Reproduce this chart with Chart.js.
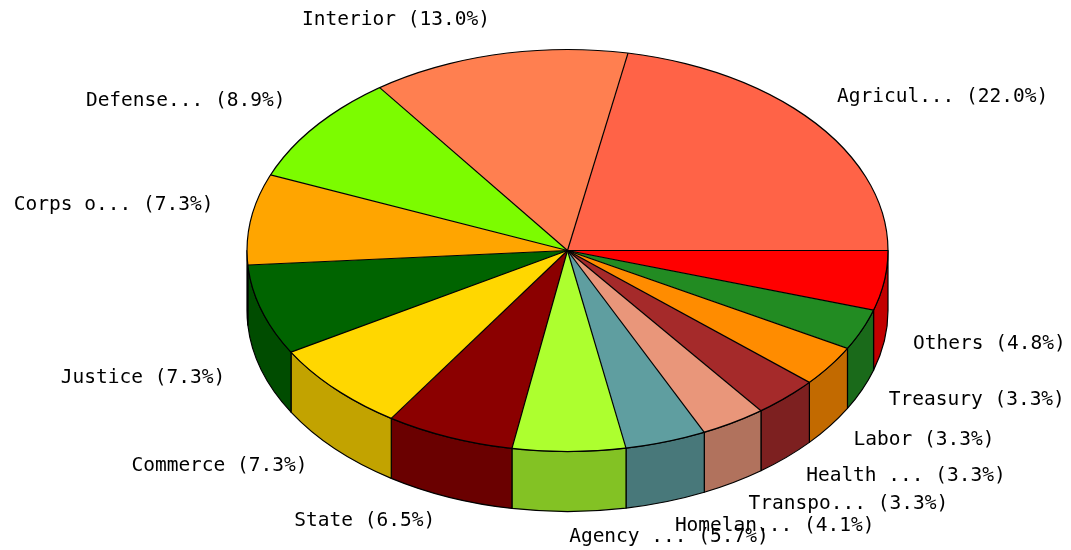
<!DOCTYPE html>
<html><head><meta charset="utf-8">
<script src="https://cdn.jsdelivr.net/npm/chart.js@4.4.0/dist/chart.umd.min.js"></script>
<style>html,body{margin:0;padding:0;background:#fff;}#wrap{width:1071px;height:550px;}</style>
</head><body><div id="wrap"><canvas id="c" width="1071" height="550"></canvas></div>
<script>
// Data (in the source's counter-clockwise order, starting at 3 o'clock)
const categories = ['Agricul...', 'Interior', 'Defense...', 'Corps o...', 'Justice', 'Commerce', 'State', 'Agency ...', 'Homelan...', 'Transpo...', 'Health ...', 'Labor', 'Treasury', 'Others'];
const shares = [22.0, 13.0, 8.9, 7.3, 7.3, 7.3, 6.5, 5.7, 4.1, 3.3, 3.3, 3.3, 3.3, 4.8];
const sliceColors = ['#FF6347', '#FF7F50', '#7CFC00', '#FFA500', '#006400', '#FFD700', '#8B0000', '#ADFF2F', '#5F9EA0', '#E9967A', '#A52A2A', '#FF8C00', '#228B22', '#FF0000'];

const DEPTH = 60;     // extrusion height of the 3D pie
const RX = 320.5;     // horizontal semi-axis of the pie top
const SIDE_SHADE = 0.76;

function darken(hex, f) {
  const n = parseInt(hex.slice(1), 16);
  const r = Math.round(((n >> 16) & 255) * f), g = Math.round(((n >> 8) & 255) * f), b = Math.round((n & 255) * f);
  return `rgb(${r},${g},${b})`;
}

const pie3d = {
  id: 'pie3d',
  beforeDatasetsDraw(chart) {
    const ctx = chart.ctx;
    const arcs = chart.getDatasetMeta(0).data;
    const cx = arcs[0].x, cy = arcs[0].y, RY = arcs[0].outerRadius;
    const colors = chart.data.datasets[0].backgroundColor;
    ctx.save();
    ctx.lineWidth = 1.2;
    ctx.strokeStyle = '#000';
    ctx.lineJoin = 'round';
    arcs.forEach((arc, i) => {
      const s = Math.max(arc.startAngle, 0), e = Math.min(arc.endAngle, Math.PI);
      if (e <= s) return;
      ctx.beginPath();
      ctx.ellipse(cx, cy, RX, RY, 0, s, e);
      ctx.lineTo(cx + RX * Math.cos(e), cy + RY * Math.sin(e) + DEPTH);
      ctx.ellipse(cx, cy + DEPTH, RX, RY, 0, e, s, true);
      ctx.closePath();
      ctx.fillStyle = darken(colors[i], SIDE_SHADE);
      ctx.fill();
      ctx.stroke();
    });
    ctx.restore();
    // flatten the library's circular pie into an ellipse
    ctx.save();
    ctx.translate(cx, cy);
    ctx.scale(RX / RY, 1);
    ctx.translate(-cx, -cy);
  },
  afterDatasetsDraw(chart) {
    const ctx = chart.ctx;
    ctx.restore();
    const arcs = chart.getDatasetMeta(0).data;
    const cx = arcs[0].x, cy = arcs[0].y, RY = arcs[0].outerRadius;
    ctx.save();
    ctx.strokeStyle = '#000';
    ctx.lineWidth = 1.2;
    // radial boundaries
    arcs.forEach(arc => {
      ctx.beginPath();
      ctx.moveTo(cx, cy);
      ctx.lineTo(cx + RX * Math.cos(arc.startAngle), cy + RY * Math.sin(arc.startAngle));
      ctx.stroke();
    });
    ctx.beginPath();
    ctx.ellipse(cx, cy, RX, RY, 0, 0, Math.PI * 2);
    ctx.stroke();
    // labels
    const labels = chart.data.labels, vals = chart.data.datasets[0].data;
    ctx.fillStyle = '#000';
    ctx.font = '19.5px "DejaVu Sans Mono", "Liberation Mono", monospace';
    ctx.textBaseline = 'middle';
    arcs.forEach((arc, i) => {
      const mid = (arc.startAngle + arc.endAngle) / 2;
      const c = Math.cos(mid), s = Math.sin(mid);
      let x, y;
      if (c >= -0.02) { ctx.textAlign = 'left'; x = cx + c * (RX + 29); }
      else { ctx.textAlign = 'right'; x = cx + c * (RX + 38); }
      if (s > 0) y = cy + DEPTH + s * (RY + 25);
      else y = cy + s * (RY + 25) - 10;
      ctx.fillText(`${labels[i]} (${vals[i].toFixed(1)}%)`, x, y);
    });
    ctx.restore();
  }
};

// Chart.js draws clockwise; the source runs counter-clockwise, so reverse.
const order = categories.map((_, i) => i).reverse();
new Chart(document.getElementById('c'), {
  type: 'pie',
  data: {
    labels: order.map(i => categories[i]),
    datasets: [{
      data: order.map(i => shares[i]),
      backgroundColor: order.map(i => sliceColors[i]),
      borderWidth: 0,
      radius: 201
    }]
  },
  options: {
    responsive: false,
    animation: false,
    rotation: 90,
    events: [],
    layout: { padding: { left: 200, right: 136, top: 49.5, bottom: 98.5 } },
    plugins: { legend: { display: false }, tooltip: { enabled: false } }
  },
  plugins: [pie3d]
});
</script>
</body></html>
